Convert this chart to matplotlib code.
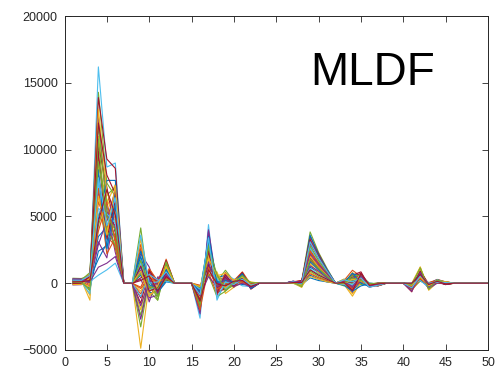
import numpy as np
import matplotlib
matplotlib.use("Agg")
import matplotlib.pyplot as plt

# matlab default colour order
colors = ["#0072BD", "#D95319", "#EDB120", "#7E2F8E", "#77AC30", "#4DBEEE", "#A2142F"]

n_lines = 35
x = np.arange(1, 51)

# values at each sample, one entry per line
# (samples not listed are 0 for every line)
y1 = [50, 120, 200, -80, 370, 150, 100, 30, 180, 250, -50, 300, 80, 60, 10, 220, 140, -130, 260, 90, 110, 40, 170, 20, 330, 70, 130, -20, 190, 160, -100, 280, 60, 230, 100]
y2 = [60, 100, 210, -60, 350, 170, 90, 20, 160, 240, -40, 280, 90, 50, 0, 200, 150, -110, 250, 80, 120, 30, 160, 40, 320, 60, 110, -10, 180, 150, -90, 270, 70, 220, 110]
y3 = [300, -200, -1270, 150, 600, 200, 500, -400, 100, 700, 250, -600, 400, 80, 350, -100, -900, 550, 800, 120, 450, 200, 650, -300, 50, 300, -800, 480, 150, 250, 380, 100, -500, 600, 200]
y4 = [3500, 8200, 11000, 6800, 14300, 16200, 13900, 2400, 9500, 5200, 12500, 4300, 7600, 10300, 1800, 6100, 8800, 3100, 11800, 600, 9900, 4800, 7100, 13000, 2900, 10800, 5600, 12000, 8500, 3900, 6500, 1200, 9100, 7900, 4600]
y5 = [4200, 3500, 6000, 5100, 7500, 8700, 9300, 2800, 4900, 3800, 5500, 6600, 2500, 7200, 3000, 4400, 6300, 1900, 5800, 1000, 3300, 7700, 2200, 6800, 4700, 3900, 5200, 8100, 2600, 6100, 3600, 1500, 5000, 4300, 7000]
y6 = [5500, 2800, 7400, 4300, 6500, 9000, 8600, 4100, 3500, 6000, 2300, 7200, 5000, 3800, 6900, 2600, 4800, 5700, 3000, 1500, 6200, 7700, 3400, 5300, 7000, 2900, 4500, 6700, 5900, 3200, 7300, 2000, 4000, 6400, 5100]
y9 = [1200, -800, -4870, 2200, 4140, 1500, -1500, 800, 2600, -2000, 300, -3270, 1800, -1100, 600, 2900, -600, 1000, -2400, 1600, 400, 2000, -300, 3300, -1700, 700, -1000, 1300, 2400, -400, 900, -2700, 1700, 3600, 200]
y10 = [-300, 500, 0, 1220, -600, -900, 1000, 200, -400, 700, -1100, 300, -200, 900, -700, 100, 600, -1400, 400, -500, 800, -100, 1100, -800, 250, -300, 650, -600, 150, 450, -1000, 350, -250, 0, 550]
y11 = [-500, -200, -100, -800, -1270, -300, 100, -600, 300, -400, -900, -1270, -150, 200, -700, -50, -350, 470, -1000, -250, 0, -450, 150, -650, -100, -850, 250, -300, -550, 50, -200, -750, -400, 100, -600]
y12 = [600, 1800, 300, 900, 1200, 500, 1700, 200, 1100, 400, 800, 1400, 700, 1000, 100, 1300, 600, 350, 1500, 800, 250, 950, 450, 1150, 550, 1600, 150, 750, 1050, 400, 1250, 650, 300, 850, 500]
y16 = [-800, -1500, -300, -1100, -600, -2620, -1900, -400, -1300, -700, -2100, -200, -1000, -1600, -500, -1200, -900, -2300, -350, -1400, -750, -1700, -150, -1050, -550, -1800, -450, -1250, -650, -2000, -250, -950, -1550, -850, -1350]
y17 = [1500, 2800, 900, 2200, 3300, 4390, 3600, 1100, 2500, 1800, 3900, 700, 2000, 3000, 1300, 2600, 1700, 4000, 600, 2300, 1400, 3500, 800, 2100, 1600, 2900, 1000, 2400, 3200, 1200, 1900, 500, 2700, 3400, 1000]
y18 = [-300, 200, 850, -500, 100, -1270, -700, 400, -200, 600, -900, 300, -400, 0, 500, -600, 700, -100, -1000, 250, -350, 150, -800, 450, -550, -150, 350, -750, 50, -450, 550, -250, 650, -1100, -50]
y19 = [300, -200, -770, 500, 970, 100, -400, 600, -100, 200, 400, -300, 700, -500, 150, 800, -250, 350, -600, 50, 450, -150, 250, -350, 550, 0, -450, 650, 200, -50, 750, 350, -550, 100, -200]
y20 = [-100, 200, -300, 0, 150, -200, 100, -50, 250, -150, 50, -250, 300, -100, 0, 100, -200, 150, -50, 200, -300, 50, -150, 250, -100, 0, 150, -200, 100, -50, 200, -250, 50, -100, 150]
y21 = [200, 850, 100, 400, 300, 500, 800, 150, 600, 0, 350, 700, 250, 450, -100, 550, 200, 650, 300, 100, 750, 400, 50, 500, 250, 600, -200, 350, 700, 150, 450, 0, 550, 300, 200]
y22 = [-200, -100, 0, -300, -150, -50, -450, -100, -250, 50, -350, -200, 0, -400, -150, -300, 100, -250, -50, -100, -200, -350, -150, 0, -300, -100, -250, -50, -400, -200, -100, -300, 50, -150, -250]
y27 = [50, 100, 0, 150, 80, 30, 120, 60, 90, 0, 140, 70, 20, 110, 40, 130, 80, 10, 100, 50, 60, 150, 30, 90, 120, 0, 70, 110, 40, 80, 20, 130, 60, 100, 50]
y28 = [-50, 100, -300, 0, 150, -100, 50, -150, 200, -200, 0, 100, -250, 50, -100, 150, -300, 0, 100, -50, 200, -150, 50, -200, 100, 0, -100, 150, -50, 50, -150, 100, -250, 0, 50]
y29 = [1200, 2500, 800, 1800, 3840, 2900, 3500, 600, 2100, 1500, 3200, 1000, 2700, 1900, 400, 2300, 1400, 3000, 900, 2600, 1700, 3600, 700, 2000, 1300, 2800, 1100, 3300, 1600, 2400, 500, 2200, 1800, 3100, 1000]
y30 = [800, 1500, 400, 1200, 2300, 2000, 2200, 300, 1300, 1000, 1900, 700, 1600, 1200, 200, 1500, 800, 1900, 500, 1700, 1100, 2100, 400, 1200, 900, 1700, 600, 2000, 1000, 1500, 300, 1400, 1100, 1900, 600]
y31 = [400, 700, 200, 600, 1100, 1000, 1000, 100, 600, 500, 900, 300, 800, 600, 100, 700, 400, 900, 200, 800, 500, 1000, 200, 600, 400, 800, 300, 900, 500, 700, 100, 700, 500, 900, 300]
y33 = [100, 200, -100, 0, 300, 50, 150, -50, 250, 0, 100, -200, 200, 50, -100, 150, 0, 250, -50, 100, 200, -150, 50, 300, 0, 100, -100, 150, 50, 200, -50, 100, 0, 250, 50]
y34 = [200, 970, -970, 400, -300, 100, 600, -500, 300, 800, -700, 0, 500, -200, 700, -400, -800, 350, 150, -100, 450, -600, 650, 250, -350, 550, -150, 50, 750, -450, 300, -250, 400, 100, -550]
y35 = [300, 500, 100, 200, 600, 400, 850, 0, 350, 250, 700, -100, 450, 150, 550, 300, 50, 650, 200, 400, 750, -200, 300, 500, 100, 600, 250, 450, 0, 350, 150, 550, 200, 400, 700]
y36 = [-100, -200, -50, -300, 0, -150, -250, -100, -50, -200, -150, 0, -300, -100, -250, -50, -200, -150, -100, 0, -250, -50, -300, -150, -100, -200, 0, -50, -250, -150, -100, -200, -50, -300, -150]
y37 = [-50, -100, 0, -150, -50, -200, -100, 0, -50, -150, -100, -50, 0, -200, -100, -50, -150, 0, -100, -50, -150, -200, 0, -50, -100, -150, -50, 0, -100, -200, -50, -100, 0, -150, -50]
y41 = [-200, -100, 0, -350, -150, -50, -650, -250, -100, -400, 0, -300, -500, -150, -50, -200, -350, -100, -450, 0, -250, -150, -550, -50, -300, -200, -100, -400, -50, -250, -150, -600, -100, -350, 0]
y42 = [400, 900, 1220, 300, 700, 500, 1000, 200, 600, 800, 350, 1100, 450, 650, 250, 950, 1200, 550, 150, 750, 400, 850, 300, 1050, 500, 600, 200, 900, 700, 350, 450, 800, 1150, 550, 650]
y43 = [-100, -250, -520, 0, -200, -150, -300, -50, -350, -100, -250, -400, 0, -150, -300, -200, -500, -50, -100, -250, -350, -150, 50, -200, -400, -100, -300, -50, -250, -150, -200, -350, -450, 0, -100]
y44 = [100, 200, 50, 280, 150, 0, 250, 100, 180, 50, 220, 120, 0, 280, 150, 80, 200, 30, 250, 100, 150, 60, 230, 180, 0, 120, 260, 90, 200, 40, 170, 110, 240, 70, 140]
y45 = [50, -50, 100, 0, -100, 50, 0, -50, 100, 50, 0, -100, 50, 100, -50, 0, 50, -50, 100, 0, -100, 50, 0, 100, -50, 50, 0, -100, 50, 0, 100, -50, 0, 50, -50]

active = {1: y1, 2: y2, 3: y3, 4: y4, 5: y5, 6: y6, 9: y9, 10: y10, 11: y11, 12: y12,
          16: y16, 17: y17, 18: y18, 19: y19, 20: y20, 21: y21, 22: y22, 27: y27,
          28: y28, 29: y29, 30: y30, 31: y31, 33: y33, 34: y34, 35: y35, 36: y36,
          37: y37, 41: y41, 42: y42, 43: y43, 44: y44, 45: y45}

Y = np.zeros((len(x), n_lines))
for k, v in active.items():
    Y[k - 1] = v

plt.rcParams['font.family'] = ['Liberation Sans', 'DejaVu Sans']
plt.rcParams['axes.prop_cycle'] = plt.cycler(color=colors)

fig = plt.figure(figsize=(5, 3.85), dpi=100)
ax = fig.add_axes([0.129, 0.091, 0.847, 0.867])
ax.plot(x, Y, lw=0.8)

ax.set_xlim(0, 50)
ax.set_ylim(-5000, 20000)
ax.set_xticks(np.arange(0, 51, 5))
ax.set_yticks(np.arange(-5000, 20001, 5000))
ax.tick_params(direction='in', top=True, right=True, length=4, width=0.6,
               colors='#262626', labelsize=9, pad=5)
for s in ax.spines.values():
    s.set_color('#262626')
    s.set_linewidth(0.7)

ax.text(29.0, 14820, 'MLDF', fontsize=33, ha='left', va='baseline', color='black')

fig.savefig('out.png', dpi=100)
